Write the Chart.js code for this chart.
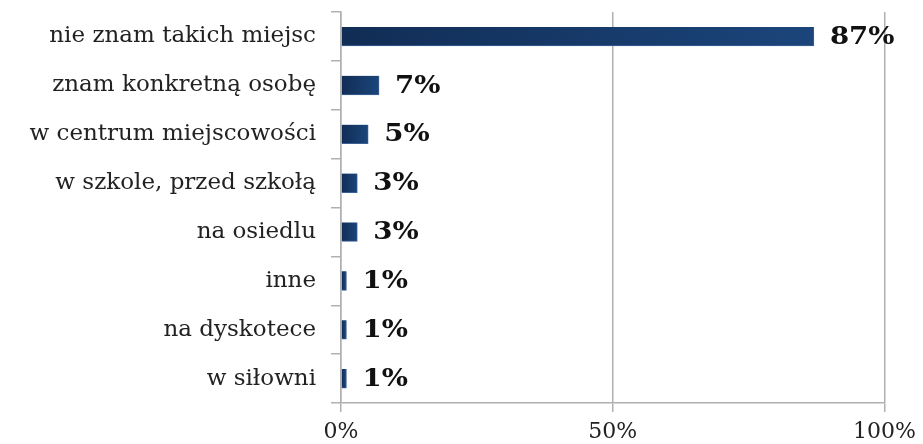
<!DOCTYPE html>
<html>
<head>
<meta charset="utf-8">
<script src="https://cdn.jsdelivr.net/npm/chart.js@4.4.1/dist/chart.umd.min.js"></script>
<style>
  html, body { margin: 0; padding: 0; background: #fff; }
  #wrap { width: 923px; height: 444px; }
</style>
</head>
<body>
<div id="wrap"><canvas id="chart" width="923" height="444"></canvas></div>
<script>
// chart data
const categories = [
    'nie znam takich miejsc',
    'znam konkretną osobę',
    'w centrum miejscowości',
    'w szkole, przed szkołą',
    'na osiedlu',
    'inne',
    'na dyskotece',
    'w siłowni'
];
const values = [87, 7, 5, 3, 3, 1, 1, 1];
const xTicks = [0, 50, 100];

const SERIF = '"DejaVu Serif", "Liberation Serif", serif';

// per-bar left-to-right gradient, dark navy to slightly lighter blue
function barGradient(context) {
    const chart = context.chart;
    const xs = chart.scales.x;
    if (!chart.chartArea || !xs) return '#15366a';
    const x0 = xs.getPixelForValue(0);
    const x1 = xs.getPixelForValue(context.raw);
    const g = chart.ctx.createLinearGradient(x0, 0, Math.max(x1, x0 + 1), 0);
    g.addColorStop(0, '#112d55');
    g.addColorStop(1, '#1b457b');
    return g;
}

// value labels at the end of each bar (slightly widened, like the original)
const valueLabels = {
    id: 'valueLabels',
    afterDatasetsDraw(chart) {
        const ctx = chart.ctx;
        const meta = chart.getDatasetMeta(0);
        ctx.save();
        ctx.font = 'bold 24px ' + SERIF;
        ctx.fillStyle = '#111';
        ctx.textAlign = 'left';
        ctx.textBaseline = 'middle';
        meta.data.forEach((bar, i) => {
            ctx.save();
            ctx.translate(bar.x + 16, bar.y + 1);
            ctx.scale(1.15, 1);
            ctx.fillText(values[i] + '%', 0, 0);
            ctx.restore();
        });
        ctx.restore();
    }
};

new Chart(document.getElementById('chart'), {
    type: 'bar',
    data: {
        labels: categories,
        datasets: [{
            data: values,
            backgroundColor: barGradient,
            borderColor: '#3a6196',
            borderWidth: { top: 0, left: 0, right: 1, bottom: 1 },
            borderSkipped: false,
            barThickness: 19
        }]
    },
    options: {
        indexAxis: 'y',
        responsive: false,
        animation: false,
        layout: { padding: { top: 12, right: 38, left: 0, bottom: 0 } },
        plugins: {
            legend: { display: false },
            tooltip: { enabled: false }
        },
        scales: {
            x: {
                min: 0,
                max: 100,
                afterBuildTicks: (scale) => {
                    scale.ticks = xTicks.map(v => ({ value: v }));
                },
                afterFit: (scale) => { scale.height = 41; },
                grid: {
                    color: '#b0b0b0',
                    lineWidth: 1.5,
                    tickLength: 9,
                    drawOnChartArea: true
                },
                border: { color: '#b0b0b0', width: 1.5 },
                ticks: {
                    color: '#222',
                    padding: 7,
                    maxRotation: 0,
                    font: { size: 22, family: SERIF },
                    callback: (v) => v + '%'
                }
            },
            y: {
                afterFit: (scale) => {
                    scale.width = 341;
                    scale.paddingTop = 0;
                    scale.paddingBottom = 0;
                },
                grid: {
                    offset: true,
                    color: '#b0b0b0',
                    lineWidth: 1.5,
                    tickLength: 10,
                    drawOnChartArea: false
                },
                border: { color: '#b0b0b0', width: 1.5 },
                ticks: {
                    color: '#222',
                    padding: 15,
                    font: { size: 23, family: SERIF }
                }
            }
        }
    },
    plugins: [valueLabels]
});
</script>
</body>
</html>
